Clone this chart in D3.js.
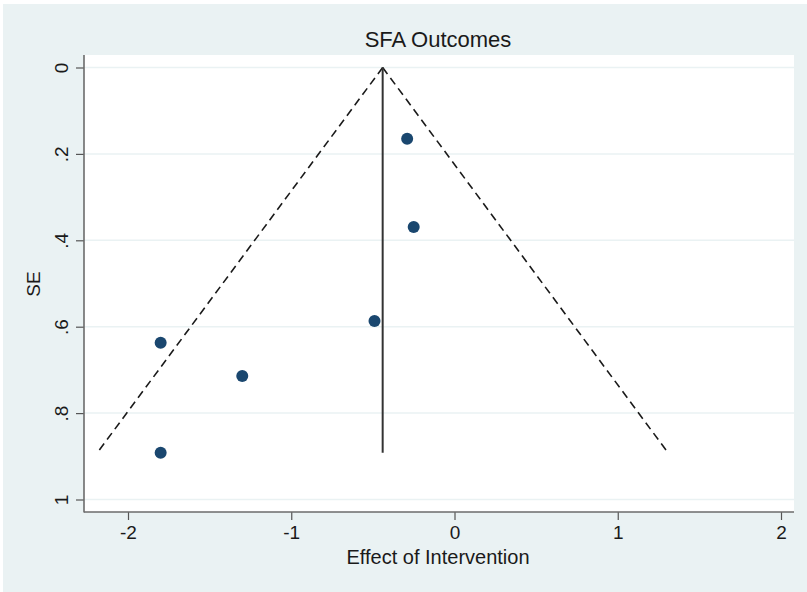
<!DOCTYPE html>
<html>
<head>
<meta charset="utf-8">
<script src="https://cdn.jsdelivr.net/npm/d3@7"></script>
<style>
  html, body { margin: 0; padding: 0; background: #ffffff; }
  svg { display: block; }
  text { font-family: "Liberation Sans", Arial, sans-serif; fill: #1a1a1a; }
</style>
</head>
<body>
<svg id="chart" width="807" height="592"></svg>
<script>
// Study effects and standard errors
const effects = [-0.29, -0.25, -0.49, -1.80, -1.30, -1.80];
const stdErrors = [0.165, 0.369, 0.587, 0.637, 0.714, 0.892];
// Pooled effect (vertical line) and funnel limit
const pooledEffect = -0.44;
const zCrit = 1.96;
const xTicks = [-2, -1, 0, 1, 2];
const yTicks = [0, 0.2, 0.4, 0.6, 0.8, 1];
const yTickLabels = ["0", ".2", ".4", ".6", ".8", "1"];

const svg = d3.select("#chart");
const W = 807, H = 592;
const plot = { left: 84, right: 794, top: 55, bottom: 512 };

// outer graph region
svg.append("rect").attr("x", 3).attr("y", 4).attr("width", W - 3).attr("height", H - 4)
  .attr("fill", "#eaf2f3");
// plot region
svg.append("rect").attr("x", plot.left).attr("y", plot.top)
  .attr("width", plot.right - plot.left).attr("height", plot.bottom - plot.top)
  .attr("fill", "#ffffff");

const x = d3.scaleLinear().domain([-2, 2]).range([128, 781]);
const y = d3.scaleLinear().domain([0, 1]).range([67.5, 499.5]);

// horizontal grid
svg.append("g").selectAll("line").data(yTicks).join("line")
  .attr("x1", plot.left).attr("x2", plot.right)
  .attr("y1", d => y(d)).attr("y2", d => y(d))
  .attr("stroke", "#eaf2f3").attr("stroke-width", 1.5);

// axes
const yAxis = d3.axisLeft(y).tickValues(yTicks).tickFormat((d, i) => yTickLabels[i])
  .tickSize(8).tickPadding(8);
const gy = svg.append("g").attr("transform", `translate(${plot.left},0)`).call(yAxis);
gy.select(".domain").remove();
gy.selectAll(".tick line").attr("stroke", "#555").attr("stroke-width", 1.2);
gy.selectAll(".tick text")
  .attr("font-size", 19)
  .attr("text-anchor", "middle")
  .attr("x", 0).attr("dy", 0)
  .attr("transform", "translate(-23,0) rotate(-90)")
  .attr("dominant-baseline", "central");

const xAxis = d3.axisBottom(x).tickValues(xTicks).tickFormat(d3.format("d"))
  .tickSize(8).tickPadding(5);
const gx = svg.append("g").attr("transform", `translate(0,${plot.bottom})`).call(xAxis);
gx.select(".domain").remove();
gx.selectAll(".tick line").attr("stroke", "#555").attr("stroke-width", 1.2);
gx.selectAll(".tick text").attr("font-size", 19).attr("dy", "0.75em")
  .text(d => d < 0 ? "-" + Math.abs(d) : d);

// axis lines
svg.append("line").attr("x1", plot.left).attr("x2", plot.left)
  .attr("y1", plot.top).attr("y2", plot.bottom + 0.5)
  .attr("stroke", "#6b6b6b").attr("stroke-width", 1.6);
svg.append("line").attr("x1", plot.left).attr("x2", plot.right)
  .attr("y1", plot.bottom).attr("y2", plot.bottom)
  .attr("stroke", "#6b6b6b").attr("stroke-width", 1.6);

// funnel limits
const maxSE = d3.max(stdErrors);
const lim = [
  [[pooledEffect, 0], [pooledEffect - zCrit * maxSE, maxSE]],
  [[pooledEffect, 0], [pooledEffect + zCrit * maxSE, maxSE]]
];
const line = d3.line().x(d => x(d[0])).y(d => y(d[1]));
svg.append("g").selectAll("path").data(lim).join("path")
  .attr("d", line).attr("fill", "none")
  .attr("stroke", "#1a1a1a").attr("stroke-width", 1.6)
  .attr("stroke-dasharray", "8,5");

// pooled effect line
svg.append("path")
  .attr("d", line([[pooledEffect, 0], [pooledEffect, maxSE]]))
  .attr("stroke", "#333").attr("stroke-width", 2).attr("fill", "none");

// studies
svg.append("g").selectAll("circle").data(effects).join("circle")
  .attr("cx", d => x(d)).attr("cy", (d, i) => y(stdErrors[i]))
  .attr("r", 6).attr("fill", "#1a476f");

// titles
svg.append("text").attr("x", 438).attr("y", 47).attr("text-anchor", "middle")
  .attr("font-size", 22).text("SFA Outcomes");
svg.append("text").attr("x", 438).attr("y", 564).attr("text-anchor", "middle")
  .attr("font-size", 20).text("Effect of Intervention");
svg.append("text").attr("transform", "translate(40,284) rotate(-90)")
  .attr("text-anchor", "middle").attr("font-size", 19).text("SE");
</script>
</body>
</html>
